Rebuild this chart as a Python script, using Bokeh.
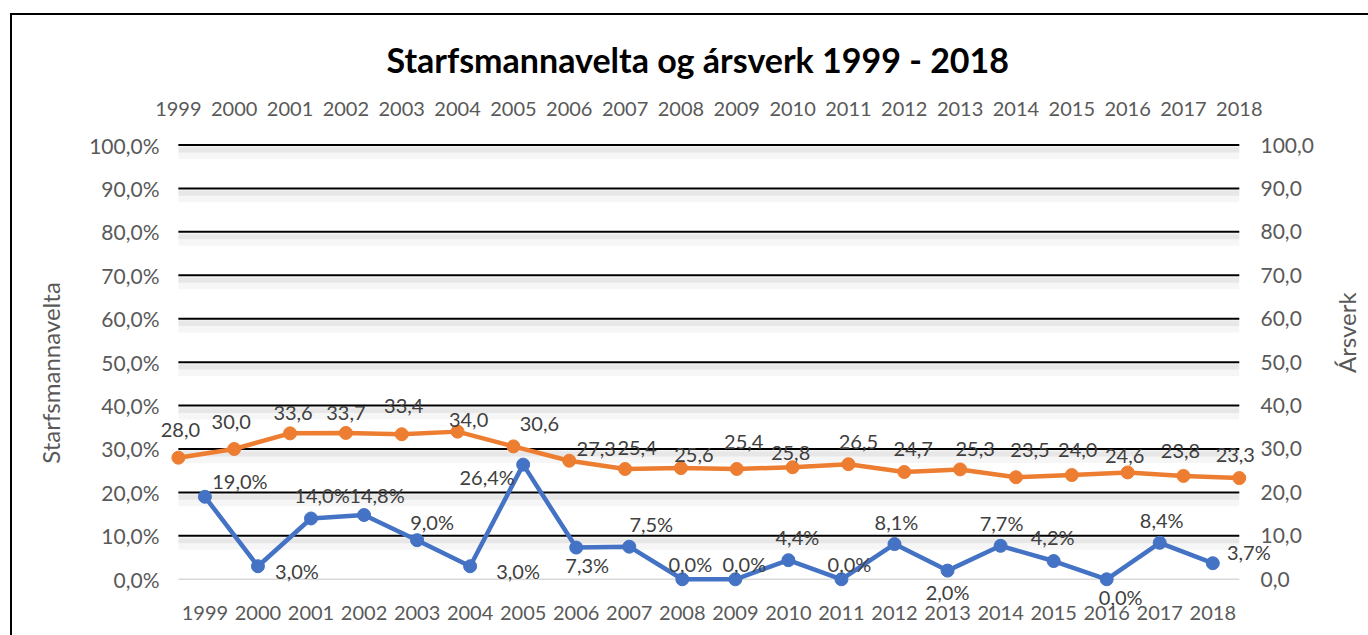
from bokeh.plotting import figure
from bokeh.models import (Range1d, LinearAxis, FixedTicker, ColumnDataSource, LabelSet)
from bokeh.core.properties import value
from bokeh.embed import file_html
from bokeh.resources import INLINE
import math

# ---------------- data ----------------
years = ["1999", "2000", "2001", "2002", "2003", "2004", "2005", "2006", "2007", "2008",
         "2009", "2010", "2011", "2012", "2013", "2014", "2015", "2016", "2017", "2018"]
starfsmannavelta = [19.0, 3.0, 14.0, 14.8, 9.0, 3.0, 26.4, 7.3, 7.5, 0.0,
                    0.0, 4.4, 0.0, 8.1, 2.0, 7.7, 4.2, 0.0, 8.4, 3.7]
arsverk = [28.0, 30.0, 33.6, 33.7, 33.4, 34.0, 30.6, 27.3, 25.4, 25.6,
           25.4, 25.8, 26.5, 24.7, 25.3, 23.5, 24.0, 24.6, 23.8, 23.3]
starfsmannavelta_labels = ["19,0%", "3,0%", "14,0%", "14,8%", "9,0%", "3,0%", "26,4%", "7,3%", "7,5%", "0,0%",
                           "0,0%", "4,4%", "0,0%", "8,1%", "2,0%", "7,7%", "4,2%", "0,0%", "8,4%", "3,7%"]
arsverk_labels = ["28,0", "30,0", "33,6", "33,7", "33,4", "34,0", "30,6", "27,3", "25,4", "25,6",
                  "25,4", "25,8", "26,5", "24,7", "25,3", "23,5", "24,0", "24,6", "23,8", "23,3"]
tick_values = [0, 10, 20, 30, 40, 50, 60, 70, 80, 90, 100]
left_tick_labels = ["0,0%", "10,0%", "20,0%", "30,0%", "40,0%", "50,0%",
                    "60,0%", "70,0%", "80,0%", "90,0%", "100,0%"]
right_tick_labels = ["0,0", "10,0", "20,0", "30,0", "40,0", "50,0",
                     "60,0", "70,0", "80,0", "90,0", "100,0"]

# label placement (pixels, right / down) -- layout only
blue_dx = [35, 39, 11, 13, 15, 48, -36, 11, 22, 8, 9, 9, 8, 2, 0, 1, -1, 14, 2, 36]
blue_dy = [-16, 5, -23, -20, -18, 5, 12, 17, -23, -15, -15, -23, -15, -22, 21, -23, -24, 18, -23, -11]
orange_dx = [2, -3, 3, 0, 2, 11, 26, 27, 12, 13, 7, -2, 10, 9, 15, 14, 6, -3, -3, -4]
orange_dy = [-28, -27, -20, -20, -28, -12, -22, -12, -21, -13, -27, -14, -22, -23, -20, -27, -25, -16, -25, -23]

BLUE = "#4472C4"
ORANGE = "#ED7D31"
TICK_COLOR = "#595959"
LABEL_COLOR = "#404040"
FONT = "Lato"

n = len(years)
pad_l, pad_r = 0.45, 0.72          # extra frame room (category units) for labels
pad_b, pad_t = 6.5, 1.5            # extra frame room (value units)
x_cat = [i + 0.5 for i in range(n)]
x_top = list(range(n))
k = (n - 1) / n                    # top axis units per bottom axis unit

p = figure(frame_width=1123, frame_height=469,
           min_border_left=142, min_border_right=91,
           min_border_top=123, min_border_bottom=28,
           x_range=Range1d(-pad_l, n + pad_r), y_range=Range1d(-pad_b, 100 + pad_t),
           x_axis_location=None, y_axis_location=None,
           output_backend="svg", toolbar_location=None)
p.extra_x_ranges = {"top": Range1d(-pad_l * k, (n - 1) + pad_r * k)}
p.extra_y_ranges = {"right": Range1d(-pad_b, 100 + pad_t)}
p.xgrid.visible = False
p.ygrid.visible = False
p.outline_line_color = None
p.background_fill_color = "white"
p.border_fill_color = "white"
p.styles = {"margin-left": "10px", "margin-top": "13px",
            "border-left": "2px solid black", "border-top": "2px solid black"}

# title
p.title.text = "Starfsmannavelta og ársverk 1999 - 2018"
p.title.align = "left"
p.title.offset = 232
p.title.text_font = FONT
p.title.text_font_style = "bold"
p.title.text_font_size = "34px"
p.title.text_color = "black"
p.title.standoff = 38


def style_axis(ax, standoff):
    ax.axis_line_color = None
    ax.major_tick_line_color = None
    ax.minor_tick_line_color = None
    ax.major_label_text_font = FONT
    ax.major_label_text_font_size = "20px"
    ax.major_label_text_color = TICK_COLOR
    ax.major_label_standoff = standoff
    ax.axis_label_text_font = FONT
    ax.axis_label_text_font_style = "normal"
    ax.axis_label_text_font_size = "24px"
    ax.axis_label_text_color = TICK_COLOR


ax_b = LinearAxis(ticker=FixedTicker(ticks=x_cat),
                  major_label_overrides={x_cat[i]: years[i] for i in range(n)})
style_axis(ax_b, -8)
p.add_layout(ax_b, "below")

ax_t = LinearAxis(x_range_name="top", ticker=FixedTicker(ticks=x_top),
                  major_label_overrides={x_top[i]: years[i] for i in range(n)})
style_axis(ax_t, 17)
p.add_layout(ax_t, "above")

ax_l = LinearAxis(ticker=FixedTicker(ticks=tick_values),
                  major_label_overrides={tick_values[i]: left_tick_labels[i] for i in range(len(tick_values))},
                  axis_label="Starfsmannavelta")
style_axis(ax_l, -11)
ax_l.major_label_text_font_size = "21px"
ax_l.axis_label_standoff = 21
p.add_layout(ax_l, "left")

ax_r = LinearAxis(y_range_name="right", ticker=FixedTicker(ticks=tick_values),
                  major_label_overrides={tick_values[i]: right_tick_labels[i] for i in range(len(tick_values))},
                  axis_label="Ársverk")
style_axis(ax_r, -23)
ax_r.major_label_text_font_size = "21px"
ax_r.axis_label_standoff = 30
if hasattr(ax_r, "axis_label_orientation"):
    ax_r.axis_label_orientation = math.pi / 2
p.add_layout(ax_r, "right")

# gridline shadows and gridlines (span the category area only)
grid_vals = tick_values[1:]
p.hbar(y=[v - 1.0 for v in grid_vals], height=1.4, left=0, right=n,
       fill_color="black", fill_alpha=0.06, line_color=None)
p.hbar(y=[v - 1.9 for v in grid_vals], height=2.6, left=0, right=n,
       fill_color="black", fill_alpha=0.035, line_color=None)
p.segment(x0=0, x1=n, y0=grid_vals, y1=grid_vals, line_color="black", line_width=2)
p.segment(x0=0, x1=n, y0=[0], y1=[0], line_color="#d9d9d9", line_width=1.5)

# series
src_b = ColumnDataSource(dict(x=x_cat, y=starfsmannavelta, label=starfsmannavelta_labels,
                              dx=blue_dx, dy=[-d for d in blue_dy]))
src_o = ColumnDataSource(dict(x=x_top, y=arsverk, label=arsverk_labels,
                              dx=orange_dx, dy=[-d for d in orange_dy]))

p.line("x", "y", source=src_o, line_color=ORANGE, line_width=4.5,
       x_range_name="top", y_range_name="right")
p.scatter("x", "y", source=src_o, size=13, fill_color=ORANGE, line_color=ORANGE,
          x_range_name="top", y_range_name="right")
p.line("x", "y", source=src_b, line_color=BLUE, line_width=4.5)
p.scatter("x", "y", source=src_b, size=13, fill_color=BLUE, line_color=BLUE)

lab_o = LabelSet(x="x", y="y", text="label", source=src_o, x_offset="dx", y_offset="dy",
                 x_range_name="top", y_range_name="right",
                 text_align="center", text_baseline="middle",
                 text_font=value(FONT), text_font_size="20px", text_color=LABEL_COLOR)
lab_b = LabelSet(x="x", y="y", text="label", source=src_b, x_offset="dx", y_offset="dy",
                 text_align="center", text_baseline="middle",
                 text_font=value(FONT), text_font_size="20px", text_color=LABEL_COLOR)
p.add_layout(lab_o)
p.add_layout(lab_b)

open("out.html", "w").write(file_html(p, INLINE))
